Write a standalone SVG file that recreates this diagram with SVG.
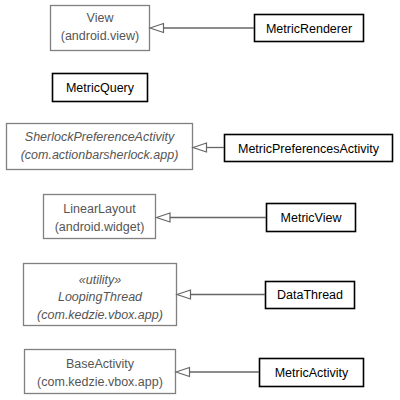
<svg xmlns="http://www.w3.org/2000/svg" width="400" height="400" viewBox="0 0 400 400">
<style>
text{font-family:"Liberation Sans",Arial,sans-serif;font-size:12.5px;text-anchor:middle}
.ext rect{fill:#fff;stroke:#808080;stroke-width:1.3}
.ext text{fill:#555}
.cls rect{fill:#fff;stroke:#000;stroke-width:1.6}
.cls text{fill:#000}
.it{font-style:italic}
#edges line{stroke:#666;stroke-width:1.3}
#edges polygon{fill:#fff;stroke:#666;stroke-width:1.2}
</style>
<rect width="400" height="400" fill="#fff"/>
<g id="View" class="ext"><rect x="50.5" y="5.5" width="99" height="45"/><text x="100" y="22">View</text><text x="100" y="40">(android.view)</text></g>
<g id="MetricRenderer" class="cls"><rect x="254.5" y="14.5" width="109" height="27"/><text x="309" y="32.5">MetricRenderer</text></g>
<g id="MetricQuery" class="cls"><rect x="52.5" y="73.5" width="95" height="28"/><text x="100" y="92">MetricQuery</text></g>
<g id="SherlockPreferenceActivity" class="ext"><rect x="6.5" y="123.5" width="186" height="46"/><text class="it" x="99.5" y="141">SherlockPreferenceActivity</text><text class="it" x="99.5" y="159">(com.actionbarsherlock.app)</text></g>
<g id="MetricPreferencesActivity" class="cls"><rect x="224.5" y="134.5" width="168" height="27"/><text x="308.5" y="152.5">MetricPreferencesActivity</text></g>
<g id="LinearLayout" class="ext"><rect x="43.5" y="194.5" width="112" height="44"/><text x="99.5" y="213">LinearLayout</text><text x="99.5" y="231">(android.widget)</text></g>
<g id="MetricView" class="cls"><rect x="266.5" y="203.5" width="89" height="28"/><text x="311" y="222">MetricView</text></g>
<g id="LoopingThread" class="ext"><rect x="23.5" y="263.5" width="153" height="62"/><text class="it" x="100" y="284">«utility»</text><text class="it" x="100" y="301">LoopingThread</text><text class="it" x="100" y="319">(com.kedzie.vbox.app)</text></g>
<g id="DataThread" class="cls"><rect x="265.5" y="281.5" width="89" height="27"/><text x="310" y="299">DataThread</text></g>
<g id="BaseActivity" class="ext"><rect x="24.5" y="349.5" width="151" height="44"/><text x="100" y="368">BaseActivity</text><text x="100" y="386">(com.kedzie.vbox.app)</text></g>
<g id="MetricActivity" class="cls"><rect x="259.5" y="358.5" width="104" height="28"/><text x="311.5" y="377">MetricActivity</text></g>
<g id="edges">
<line x1="254" y1="28" x2="163" y2="28"/><polygon points="150,28 163.5,23.5 163.5,32.5"/>
<line x1="224" y1="147.5" x2="207" y2="147.5"/><polygon points="193,147.5 206.5,143 206.5,152"/>
<line x1="266" y1="217.5" x2="170" y2="217.5"/><polygon points="156.5,217.5 170,213 170,222"/>
<line x1="265" y1="294.5" x2="190" y2="294.5"/><polygon points="177,294.5 190.5,290 190.5,299"/>
<line x1="259" y1="372" x2="189" y2="372"/><polygon points="176,372 189.5,367.5 189.5,376.5"/>
</g>
</svg>
